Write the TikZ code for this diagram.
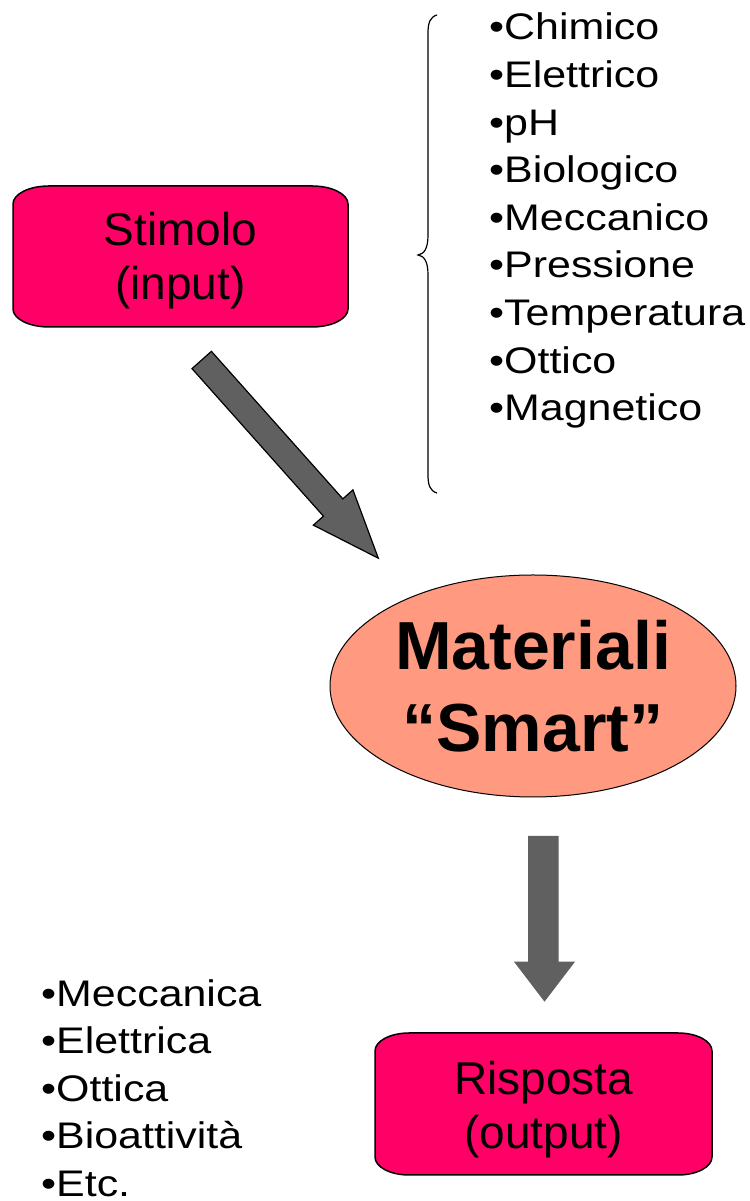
\documentclass[tikz,border=0pt]{standalone}
\usepackage{fontspec}
\setmainfont{Liberation Sans}
\newfontfamily\listfont[FakeStretch=1.16]{Liberation Sans}
\usetikzlibrary{shapes.geometric}
\definecolor{pinkc}{RGB}{255,0,102}
\definecolor{salmonc}{RGB}{255,153,128}
\definecolor{arrowgray}{RGB}{96,96,96}
\newcommand\pinkshape[5]{%
  \path[pinkfill,shift={(#1)}] (-#2+#4,#3) -- (#2-#4,#3)
    arc[start angle=90,end angle=0,x radius=#4pt,y radius=#5pt]
    -- (#2,-#3+#5)
    arc[start angle=0,end angle=-90,x radius=#4pt,y radius=#5pt]
    -- (-#2+#4,-#3)
    arc[start angle=270,end angle=180,x radius=#4pt,y radius=#5pt]
    -- (-#2,#3-#5)
    arc[start angle=180,end angle=90,x radius=#4pt,y radius=#5pt]
    -- cycle;}
\begin{document}
\begin{tikzpicture}[x=1pt,y=1pt,
  pinkfill/.style={fill=pinkc,draw=black,line width=1.5pt},
  boxtext/.style={inner sep=0pt,align=center,font=\fontsize{46pt}{54pt}\selectfont},
  listtext/.style={inner sep=0pt,align=left,anchor=north west,font=\listfont\fontsize{37pt}{47.6pt}\selectfont},
  blockarrow/.style={fill=arrowgray,draw=black,line width=1.2pt,line join=miter}]
\useasboundingbox (0,0) rectangle (749,1201);

% Stimolo box
\coordinate (stimc) at (180.5,944.5);
\pinkshape{stimc}{167.5}{70.5}{36}{18}
\node[boxtext] (stim) at (180.5,940.5) {Stimolo\\(input)};

% brace
\draw[line width=1.2pt] (437,1186) .. controls (430,1184) and (428,1178) .. (428,1168)
  -- (428,966) .. controls (428,952) and (424,947) .. (418,946)
  .. controls (424,945) and (428,940) .. (428,926)
  -- (428,726) .. controls (428,716) and (430,710) .. (437,708);

% stimulus list
\node[listtext] (stimlist) at (489,1188) {•Chimico\\•Elettrico\\•pH\\•Biologico\\•Meccanico\\•Pressione\\•Temperatura\\•Ottico\\•Magnetico};

% arrow 1
\coordinate (a1tail) at (201.7,841);
\begin{scope}[shift={(a1tail)},rotate=-48.3]
\draw[blockarrow] (0,13) -- (197.6,13) -- (197.6,26.5) -- (265.5,0) -- (197.6,-26.5) -- (197.6,-13) -- (0,-13) -- cycle;
\end{scope}

% ellipse
\node[draw=black,line width=1pt,fill=salmonc,ellipse,minimum width=406pt,minimum height=222pt,inner sep=0pt,align=center,font=\bfseries\fontsize{68pt}{82pt}\selectfont] (smart) at (533,515) {Materiali\\“Smart”};

% arrow 2
\coordinate (a2tail) at (543.3,365);
\fill[arrowgray] (528,365) -- (558.5,365) -- (558.5,239.3) -- (575,239.3) -- (544.5,199.3) -- (514,239.3) -- (528,239.3) -- cycle;

% response box
\coordinate (rispc) at (543.5,97);
\pinkshape{rispc}{168.5}{71}{34}{18}
\node[boxtext] (risp) at (543.5,91) {Risposta\\(output)};

% response list
\node[listtext] (risplist) at (41,222) {•Meccanica\\•Elettrica\\•Ottica\\•Bioattività\\•Etc.};
\end{tikzpicture}
\end{document}
